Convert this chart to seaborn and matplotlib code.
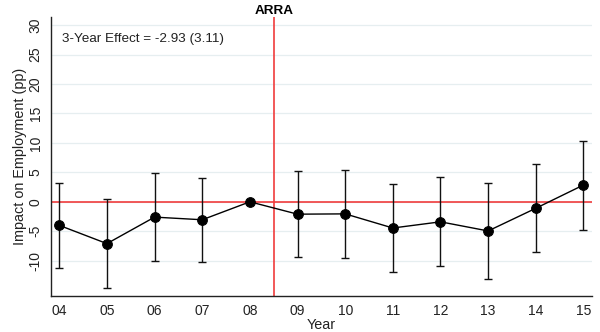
import matplotlib
matplotlib.use("Agg")
import matplotlib.pyplot as plt
import seaborn as sns
import pandas as pd
import numpy as np

years = [4, 5, 6, 7, 8, 9, 10, 11, 12, 13, 14, 15]
year_labels = ["04", "05", "06", "07", "08", "09", "10", "11", "12", "13", "14", "15"]
effect = [-4.0, -7.1, -2.6, -3.05, 0.0, -2.1, -2.05, -4.45, -3.4, -4.95, -1.1, 2.85]
ci_upper = [3.15, 0.45, 4.9, 4.1, 0.0, 5.15, 5.35, 3.1, 4.15, 3.15, 6.45, 10.4]
ci_lower = [-11.3, -14.6, -10.0, -10.2, 0.0, -9.4, -9.6, -12.0, -10.85, -13.05, -8.6, -4.75]
yticks = [-10, -5, 0, 5, 10, 15, 20, 25, 30]
annotation = "3-Year Effect = -2.93 (3.11)"
event_label = "ARRA"
event_x = 8.5

df = pd.DataFrame({"year": years, "effect": effect, "lo": ci_lower, "hi": ci_upper})

sns.set_style("white")
plt.rcParams["font.family"] = ["Liberation Sans", "DejaVu Sans"]

fig = plt.figure(figsize=(6, 3.32), dpi=100)
ax = fig.add_axes([0.085, 0.1084, 0.9017, 0.8406])

for yt in yticks:
    ax.axhline(yt, color="#e6eef0", lw=0.9, zorder=0)

ax.axhline(0, color="#f03c3c", lw=1.2, zorder=1)
ax.axvline(event_x, color="#f03c3c", lw=1.2, zorder=1)

ax.errorbar(df["year"], df["effect"],
            yerr=[df["effect"] - df["lo"], df["hi"] - df["effect"]],
            fmt="none", ecolor="#111111", elinewidth=1.0, capsize=3, capthick=1.0, zorder=2)
sns.lineplot(data=df, x="year", y="effect", color="black", lw=1.0, marker="o",
             markersize=7, markeredgecolor="black", ax=ax, zorder=3)

ax.set_xlim(3.826, 15.18)
ax.set_ylim(-16, 31.4)
ax.set_xticks(years)
ax.set_xticklabels(year_labels)
ax.set_yticks(yticks)
ax.set_yticklabels([str(t) for t in yticks], rotation=90, va="center")

for s in ["top", "right"]:
    ax.spines[s].set_visible(False)
for s in ["left", "bottom"]:
    ax.spines[s].set_color("#222222")
    ax.spines[s].set_linewidth(1.0)

ax.tick_params(axis="both", which="major", direction="out", length=4, width=1,
               color="#222222", labelsize=10, labelcolor="#222222", pad=2)
ax.tick_params(axis="x", pad=1.5)

ax.set_xlabel("Year", fontsize=10.4, color="#222222", labelpad=0.5)
ax.set_ylabel("Impact on Employment (pp)", fontsize=10.4, color="#222222", labelpad=1)

ax.text(4.05, 27.7, annotation, fontsize=9.7, color="#222222", ha="left", va="center")
ax.text(event_x, 1.0, event_label, transform=ax.get_xaxis_transform(), fontsize=9.7,
        fontweight="bold", ha="center", va="bottom", color="black")

fig.savefig("out.png", dpi=100)
